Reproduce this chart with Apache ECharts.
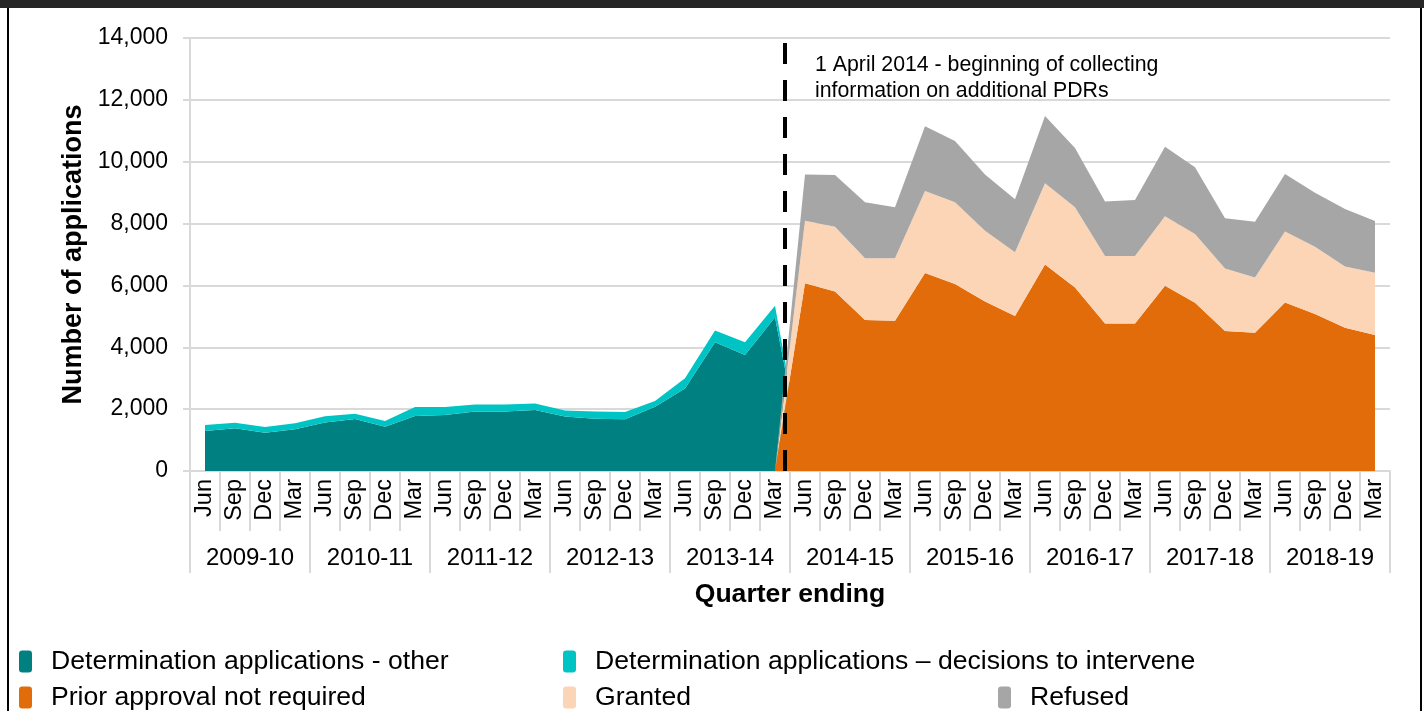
<!DOCTYPE html>
<html>
<head>
<meta charset="utf-8">
<script src="https://cdn.jsdelivr.net/npm/echarts@6/dist/echarts.min.js"></script>
<style>
  html, body { margin: 0; padding: 0; background: #fff; }
  #echarts { width: 1424px; height: 711px; }
</style>
</head>
<body>
<div id="echarts"></div>
<script>
// quarter ending labels and financial years
var quarterNames = ['Jun', 'Sep', 'Dec', 'Mar'];
var years = ['2009-10', '2010-11', '2011-12', '2012-13', '2013-14',
             '2014-15', '2015-16', '2016-17', '2017-18', '2018-19'];
var yTicks = [0, 2000, 4000, 6000, 8000, 10000, 12000, 14000];

// determination applications (up to 2013-14)
var detOther = [1290, 1380, 1240, 1350, 1570, 1680, 1430, 1780, 1810, 1920,
                1920, 1970, 1760, 1690, 1670, 2080, 2670, 4160, 3750, 4970,
                0, 0, 0, 0, 0, 0, 0, 0, 0, 0,
                0, 0, 0, 0, 0, 0, 0, 0, 0, 0];
var detIntervene = [200, 180, 180, 190, 200, 170, 190, 290, 260, 230,
                    230, 210, 200, 230, 240, 180, 330, 380, 410, 370,
                    0, 0, 0, 0, 0, 0, 0, 0, 0, 0,
                    0, 0, 0, 0, 0, 0, 0, 0, 0, 0];
// prior approval applications (from 2014-15)
var priorNotRequired = [0, 0, 0, 0, 0, 0, 0, 0, 0, 0,
                        0, 0, 0, 0, 0, 0, 0, 0, 0, 0,
                        6070, 5800, 4880, 4860, 6400, 6050, 5480, 5010, 6680, 5930,
                        4770, 4770, 5990, 5440, 4530, 4470, 5450, 5080, 4630, 4400];
var granted = [0, 0, 0, 0, 0, 0, 0, 0, 0, 0,
               0, 0, 0, 0, 0, 0, 0, 0, 0, 0,
               2020, 2100, 2000, 2020, 2650, 2640, 2290, 2060, 2620, 2600,
               2180, 2180, 2250, 2220, 2020, 1790, 2290, 2170, 1980, 2010];
var refused = [0, 0, 0, 0, 0, 0, 0, 0, 0, 0,
               0, 0, 0, 0, 0, 0, 0, 0, 0, 0,
               1500, 1670, 1810, 1650, 2100, 1980, 1820, 1720, 2180, 1910,
               1760, 1810, 2240, 2160, 1620, 1800, 1860, 1750, 1860, 1670];
// 1 April 2014 marker, in quarter widths from the left of the axis
var pdrStart = [19.83];

var FONT = '"Liberation Sans", Arial, sans-serif';
var GRIDC = '#d9d9d9';

var categories = [];
years.forEach(function (y) {
  quarterNames.forEach(function (q) { categories.push(q); });
});

function area(name, data, color, stack) {
  return {
    name: name,
    type: 'line',
    stack: stack,
    symbol: 'none',
    silent: true,
    lineStyle: { width: 0 },
    itemStyle: { color: color },
    areaStyle: { color: color, opacity: 1 },
    data: data
  };
}

function legendItem(name, left, top) {
  return {
    data: [name],
    left: left,
    top: top,
    icon: 'roundRect',
    itemWidth: 13,
    itemHeight: 22,
    selectedMode: false,
    textStyle: { fontFamily: FONT, fontSize: 26.6, color: '#000', padding: [0, 0, 0, 14] }
  };
}

var myChart = echarts.init(document.getElementById('echarts'));
var option = {
  animation: false,
  backgroundColor: '#fff',
  grid: { left: 190, right: 34, top: 38, bottom: 240 },
  legend: [
    legendItem('Determination applications - other', 14, 643),
    legendItem('Determination applications \u2013 decisions to intervene', 558, 643),
    legendItem('Prior approval not required', 14, 679),
    legendItem('Granted', 558, 679),
    legendItem('Refused', 993, 679)
  ],
  xAxis: [{
    type: 'category',
    data: categories,
    boundaryGap: true,
    axisLine: { show: true, lineStyle: { color: GRIDC, width: 2 } },
    axisTick: { show: true, interval: 0, length: 60, lineStyle: { color: GRIDC, width: 2 } },
    axisLabel: { interval: 0, rotate: 90, margin: 8, fontFamily: FONT, fontSize: 23.5, color: '#000' }
  }, {
    type: 'category',
    data: years,
    position: 'bottom',
    boundaryGap: true,
    axisLine: { show: false },
    axisTick: { show: true, interval: 0, length: 102, lineStyle: { color: GRIDC, width: 2 } },
    axisLabel: { interval: 0, margin: 75, fontFamily: FONT, fontSize: 24, color: '#000' },
    name: 'Quarter ending',
    nameLocation: 'middle',
    nameGap: 110,
    nameTextStyle: { fontFamily: FONT, fontSize: 26.6, fontWeight: 'bold', color: '#000' }
  }, {
    // hidden linear axis used only to place the dashed marker between quarters
    type: 'value',
    min: 0,
    max: categories.length,
    show: false
  }],
  yAxis: {
    type: 'value',
    min: yTicks[0],
    max: yTicks[yTicks.length - 1],
    interval: 2000,
    name: 'Number of applications',
    nameLocation: 'middle',
    nameGap: 100,
    nameTextStyle: { fontFamily: FONT, fontSize: 27, fontWeight: 'bold', color: '#000' },
    axisLine: { show: true, lineStyle: { color: GRIDC, width: 2 } },
    axisTick: { show: true, length: 7, lineStyle: { color: GRIDC, width: 2 } },
    splitLine: { show: true, lineStyle: { color: GRIDC, width: 2 } },
    axisLabel: {
      margin: 22, fontFamily: FONT, fontSize: 23, color: '#000',
      formatter: function (v) { return v.toLocaleString('en-US'); }
    }
  },
  series: [
    area('Determination applications - other', detOther, '#008080', 'det'),
    area('Determination applications \u2013 decisions to intervene', detIntervene, '#00c4c4', 'det'),
    area('Prior approval not required', priorNotRequired, '#e36c0a', 'pa'),
    area('Granted', granted, '#fbd5b5', 'pa'),
    area('Refused', refused, '#a6a6a6', 'pa'),
    {
      name: 'marker',
      type: 'line',
      xAxisIndex: 2,
      data: [],
      silent: true,
      z: 5,
      markLine: {
        silent: true,
        symbol: 'none',
        animation: false,
        label: { show: false },
        lineStyle: { color: '#000', width: 4, type: [21, 16] },
        data: pdrStart.map(function (v) { return { xAxis: v }; })
      }
    }
  ],
  graphic: [
    { type: 'rect', shape: { x: 0, y: 0, width: 1424, height: 8 }, style: { fill: '#262626' } },
    { type: 'line', shape: { x1: 8, y1: 8, x2: 8, y2: 711 }, style: { stroke: '#000', lineWidth: 2 } },
    { type: 'line', shape: { x1: 1421, y1: 8, x2: 1421, y2: 711 }, style: { stroke: '#000', lineWidth: 2 } },
    {
      type: 'text', left: 815, top: 52,
      style: {
        text: '1 April 2014 - beginning of collecting\ninformation on additional PDRs',
        font: '21.3px ' + FONT, fill: '#000', lineHeight: 26
      }
    }
  ]
};
myChart.setOption(option);
</script>
</body>
</html>
